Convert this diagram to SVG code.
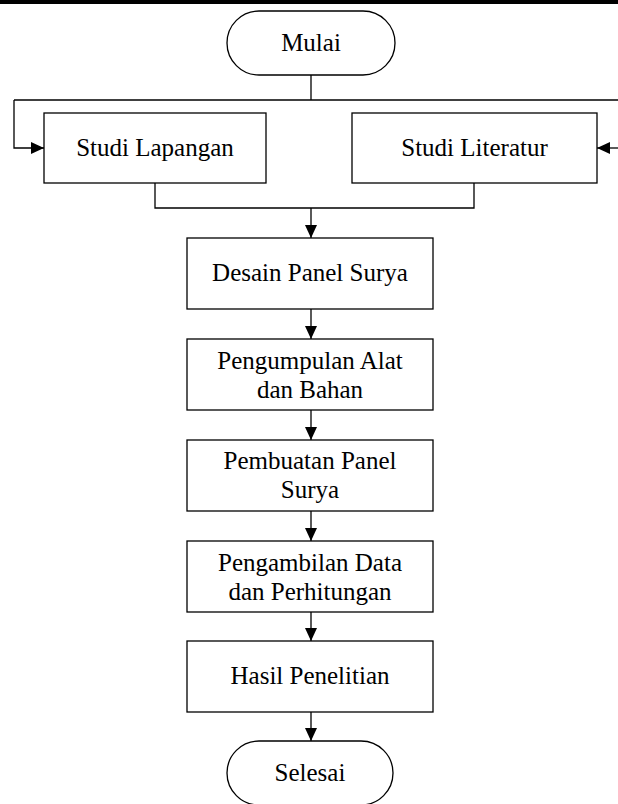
<svg xmlns="http://www.w3.org/2000/svg" width="618" height="804" viewBox="0 0 618 804">
<style>
.box{fill:#fff;stroke:#000;stroke-width:1.3}
.lbl{font-family:"Liberation Serif","Times New Roman",serif;font-size:25px;fill:#000;text-anchor:middle}
.con{fill:none;stroke:#000;stroke-width:1.3}
</style>
<defs>
<marker id="arr" markerUnits="userSpaceOnUse" markerWidth="13" markerHeight="12" refX="13" refY="6" orient="auto">
<path d="M0,0 L13,6 L0,12 Z" fill="#000"/>
</marker>
</defs>
<rect x="0" y="0" width="618" height="4" fill="#000"/>
<g id="connectors">
<path class="con" d="M311,75 V100"/>
<path class="con" d="M14,100 H622"/>
<path class="con" d="M14,100 V148 H44" marker-end="url(#arr)"/>
<path class="con" d="M622,148 H597" marker-end="url(#arr)"/>
<path class="con" d="M155,183 V208 H474 V183"/>
<path class="con" d="M311,208 V238" marker-end="url(#arr)"/>
<path class="con" d="M311,309 V339" marker-end="url(#arr)"/>
<path class="con" d="M311,410 V440" marker-end="url(#arr)"/>
<path class="con" d="M311,511 V541" marker-end="url(#arr)"/>
<path class="con" d="M311,612 V641" marker-end="url(#arr)"/>
<path class="con" d="M311,712 V741" marker-end="url(#arr)"/>
</g>
<g id="mulai">
<rect class="box" x="227" y="11" width="168" height="64" rx="32" ry="32"/>
<text class="lbl" x="311" y="51">Mulai</text>
</g>
<g id="studi-lapangan">
<rect class="box" x="44" y="113" width="222" height="70"/>
<text class="lbl" x="155" y="156">Studi Lapangan</text>
</g>
<g id="studi-literatur">
<rect class="box" x="352" y="113" width="245" height="70"/>
<text class="lbl" x="474.5" y="156">Studi Literatur</text>
</g>
<g id="desain">
<rect class="box" x="187" y="238" width="246" height="71"/>
<text class="lbl" x="310" y="281">Desain Panel Surya</text>
</g>
<g id="pengumpulan">
<rect class="box" x="187" y="339" width="246" height="71"/>
<text class="lbl" x="310" y="369">Pengumpulan Alat</text>
<text class="lbl" x="310" y="398">dan Bahan</text>
</g>
<g id="pembuatan">
<rect class="box" x="187" y="440" width="246" height="71"/>
<text class="lbl" x="310" y="469">Pembuatan Panel</text>
<text class="lbl" x="310" y="498">Surya</text>
</g>
<g id="pengambilan">
<rect class="box" x="187" y="541" width="246" height="71"/>
<text class="lbl" x="310" y="571">Pengambilan Data</text>
<text class="lbl" x="310" y="600">dan Perhitungan</text>
</g>
<g id="hasil">
<rect class="box" x="187" y="641" width="246" height="71"/>
<text class="lbl" x="310" y="684">Hasil Penelitian</text>
</g>
<g id="selesai">
<rect class="box" x="227" y="741" width="166" height="64" rx="32" ry="32"/>
<text class="lbl" x="310" y="781">Selesai</text>
</g>
</svg>
